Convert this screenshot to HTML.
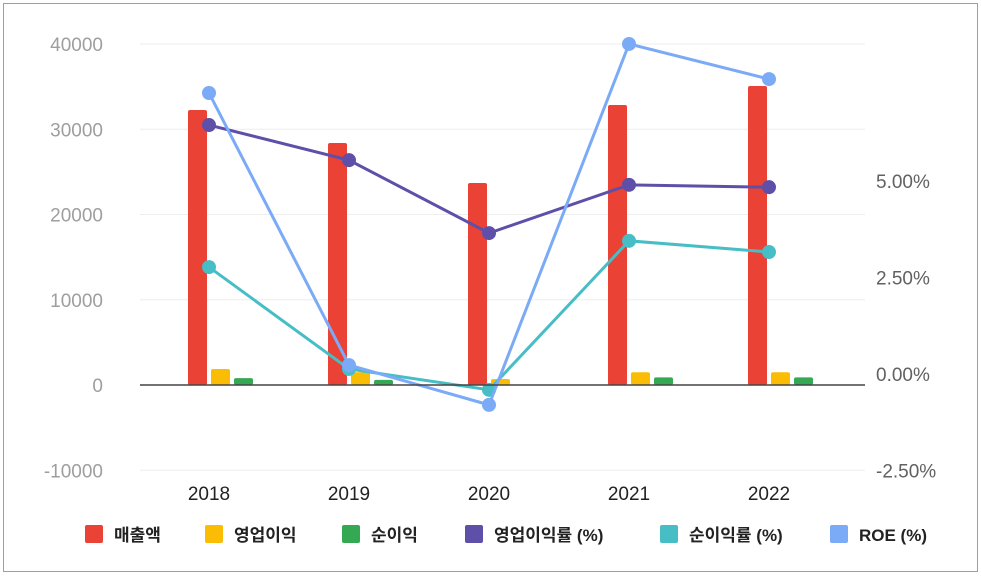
<!DOCTYPE html>
<html><head><meta charset="utf-8"><style>
body{margin:0;background:#fff;font-family:"Liberation Sans","Noto Sans CJK KR",sans-serif}
</style></head><body>
<svg id="c" width="981" height="576" xmlns="http://www.w3.org/2000/svg">
<rect x="3.5" y="3.5" width="974" height="568" fill="#fff" stroke="#9e9e9e"/>
<g id="grid"></g><g id="bars"></g><g id="lines"></g><g id="axes"></g><g id="legend"></g>
</svg>
<script>
const categories=["2018","2019","2020","2021","2022"];
const revenue=[32260,28390,23700,32840,35070];
const opProfit=[1880,1500,700,1500,1500];
const netProfit=[800,600,-50,900,900];
const opMargin=[6.45,5.54,3.65,4.90,4.84];
const netMargin=[2.77,0.13,-0.41,3.45,3.16];
const roe=[7.28,0.23,-0.80,8.55,7.64];
const leftTicks=[-10000,0,10000,20000,30000,40000];
const rightTicks=[-2.5,0,2.5,5];
const rightTickLabels=["-2.50%","0.00%","2.50%","5.00%"];

const NS="http://www.w3.org/2000/svg";
function mk(tag,attrs,parent,text){const e=document.createElementNS(NS,tag);for(const k in attrs)e.setAttribute(k,attrs[k]);if(text!==undefined)e.textContent=text;document.getElementById(parent).appendChild(e);return e;}
const yL=v=>385-v*0.008525;
const yR=v=>374-v*38.6;
const xC=i=>209+i*140;

leftTicks.forEach(t=>{
  if(t!==0){const g=mk('line',{x1:140,x2:865,y1:yL(t),y2:yL(t),stroke:'#eeeeee'},'grid');
  }
  const l=mk('text',{x:103,y:yL(t)+7,'text-anchor':'end','font-size':19,fill:'#9e9e9e'},'axes',String(t));
  
});
rightTicks.forEach((t,i)=>{
  const l=mk('text',{x:876,y:yR(t)+7,'font-size':19,fill:'#616161'},'axes',rightTickLabels[i]);
  
});
const zl=mk('line',{x1:140,x2:865,y1:yL(0),y2:yL(0),stroke:'#444',"stroke-width":1.5},'axes');

categories.forEach((c,i)=>{
  const l=mk('text',{x:xC(i),y:500,'text-anchor':'middle','font-size':19,fill:'#222'},'axes',c);
  
});
const barSeries=[[revenue,'#ea4335',-21],[opProfit,'#fbbc04',2],[netProfit,'#34a853',25]];
barSeries.forEach(([arr,col,off])=>{
  arr.forEach((v,i)=>{
    const y0=yL(0),y1=yL(v);
    const b=mk('rect',{x:xC(i)+off,y:Math.min(y0,y1),width:19,height:Math.max(Math.abs(y0-y1),0.5),fill:col,rx:2},'bars');
    
  });
});
const lineSeries=[[opMargin,'#5e4fa8'],[netMargin,'#47bdc6'],[roe,'#7baaf7']];
lineSeries.forEach(([arr,col])=>{
  const p=mk('polyline',{points:arr.map((v,i)=>xC(i)+','+yR(v)).join(' '),fill:'none',stroke:col,'stroke-width':3},'lines');
  
  arr.forEach((v,i)=>{
    const d=mk('circle',{cx:xC(i),cy:yR(v),r:7,fill:col},'lines');
    
  });
});
const legendItems=[["매출액",'#ea4335',85],["영업이익",'#fbbc04',205],["순이익",'#34a853',342],["영업이익률 (%)",'#5e4fa8',465],["순이익률 (%)",'#47bdc6',660],["ROE (%)",'#7baaf7',830]];
legendItems.forEach(([t,col,x])=>{
  const r=mk('rect',{x:x,y:525,width:18,height:18,fill:col,rx:2},'legend');
  
  const l=mk('text',{x:x+29,y:541,'font-size':17,'font-weight':'bold',fill:'#222'},'legend',t);
  
});
</script>
</body></html>
